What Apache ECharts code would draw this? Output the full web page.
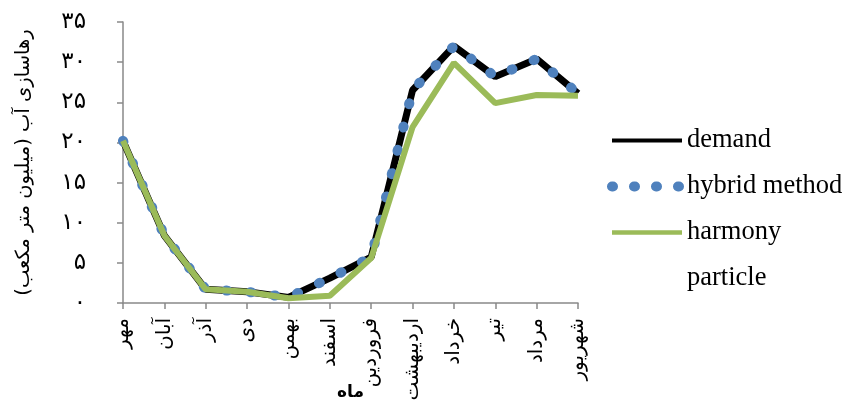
<!DOCTYPE html>
<html><head><meta charset="utf-8">
<script src="https://cdn.jsdelivr.net/npm/echarts@6/dist/echarts.min.js"></script>
<style>html,body{margin:0;padding:0;background:#fff}#c{width:847px;height:401px}</style>
</head><body><div id="c"></div>
<script>
const months = ['مهر','آبان','آذر','دی','بهمن','اسفند','فروردین','اردیبهشت','خرداد','تیر','مرداد','شهریور'];
const demand = [20.2, 8.4, 1.7, 1.4, 0.7, 3.1, 5.7, 26.5, 32.0, 28.2, 30.4, 26.1];
const hybrid = [20.2, 8.4, 1.7, 1.4, 0.7, 3.1, 5.7, 26.5, 32.0, 28.2, 30.4, 26.1];
const harmony = [20.2, 8.4, 1.7, 1.4, 0.6, 0.9, 5.6, 21.9, 29.9, 24.9, 25.9, 25.8];
const particle = [];
const yTickLabels = ['۰','۵','۱۰','۱۵','۲۰','۲۵','۳۰','۳۵'];
const seriesNames = ['demand','hybrid method','harmony','particle'];
const xTitle = 'ماه';
const yTitle = 'رهاسازی آب (میلیون متر مکعب)';

const chart = echarts.init(document.getElementById('c'), null, {renderer:'canvas'});
const axisColor = '#898989';
const clear = 'rgba(0,0,0,0)';
chart.setOption({
  animation:false,
  grid:{left:123,right:269,top:22,bottom:98, containLabel:false, outerBoundsMode:'none'},
  xAxis:{type:'category', data:months, boundaryGap:false,
    axisLine:{lineStyle:{color:axisColor,width:1.5}},
    axisTick:{length:6, lineStyle:{color:axisColor,width:1.5}},
    axisLabel:{rotate:90, margin:15, fontFamily:'DejaVu Sans', fontSize:20, color:'#000', interval:0},
    name:xTitle, nameLocation:'middle', nameGap:81, nameMoveOverlap:false,
    nameTextStyle:{fontFamily:'DejaVu Sans', fontSize:17, fontWeight:'bold', color:'#000'}
  },
  yAxis:{type:'value', min:0, max:35, interval:5, splitLine:{show:false},
    axisLine:{show:true,lineStyle:{color:axisColor,width:1.5}},
    axisTick:{show:true,length:6,lineStyle:{color:axisColor,width:1.5}},
    axisLabel:{margin:37, fontFamily:'DejaVu Sans', fontSize:23, color:'#000',
      formatter:function(v){return yTickLabels[Math.round(v/5)];}},
    name:yTitle, nameLocation:'middle', nameRotate:90, nameGap:89, nameMoveOverlap:false,
    nameTextStyle:{fontFamily:'DejaVu Sans', fontSize:19.5, color:'#000'}
  },
  legend:{orient:'vertical', left:607, top:127, padding:0, itemWidth:70, itemHeight:14, itemGap:19,
    data:[
      {name:seriesNames[0], lineStyle:{width:4}},
      {name:seriesNames[1], lineStyle:{width:10, type:[1,21], cap:'round'}},
      {name:seriesNames[2], lineStyle:{width:4.5}},
      {name:seriesNames[3]}
    ],
    textStyle:{fontFamily:'Liberation Serif', fontSize:26.5, color:'#000'}},
  series:[
    {name:seriesNames[0], type:'line', data:demand, symbol:'none', z:2,
      itemStyle:{color:clear, borderWidth:0}, lineStyle:{color:'#000', width:7}},
    {name:seriesNames[1], type:'line', data:hybrid, symbol:'none', z:3,
      itemStyle:{color:clear, borderWidth:0}, lineStyle:{color:'#4F81BD', width:10, type:[1,23], cap:'round'}},
    {name:seriesNames[2], type:'line', data:harmony, symbol:'none', z:4,
      itemStyle:{color:clear, borderWidth:0}, lineStyle:{color:'#9BBB59', width:6}},
    {name:seriesNames[3], type:'line', data:particle, symbol:'none', z:1,
      itemStyle:{color:clear, borderWidth:0}, lineStyle:{color:clear, width:0}}
  ]
});
</script></body></html>
